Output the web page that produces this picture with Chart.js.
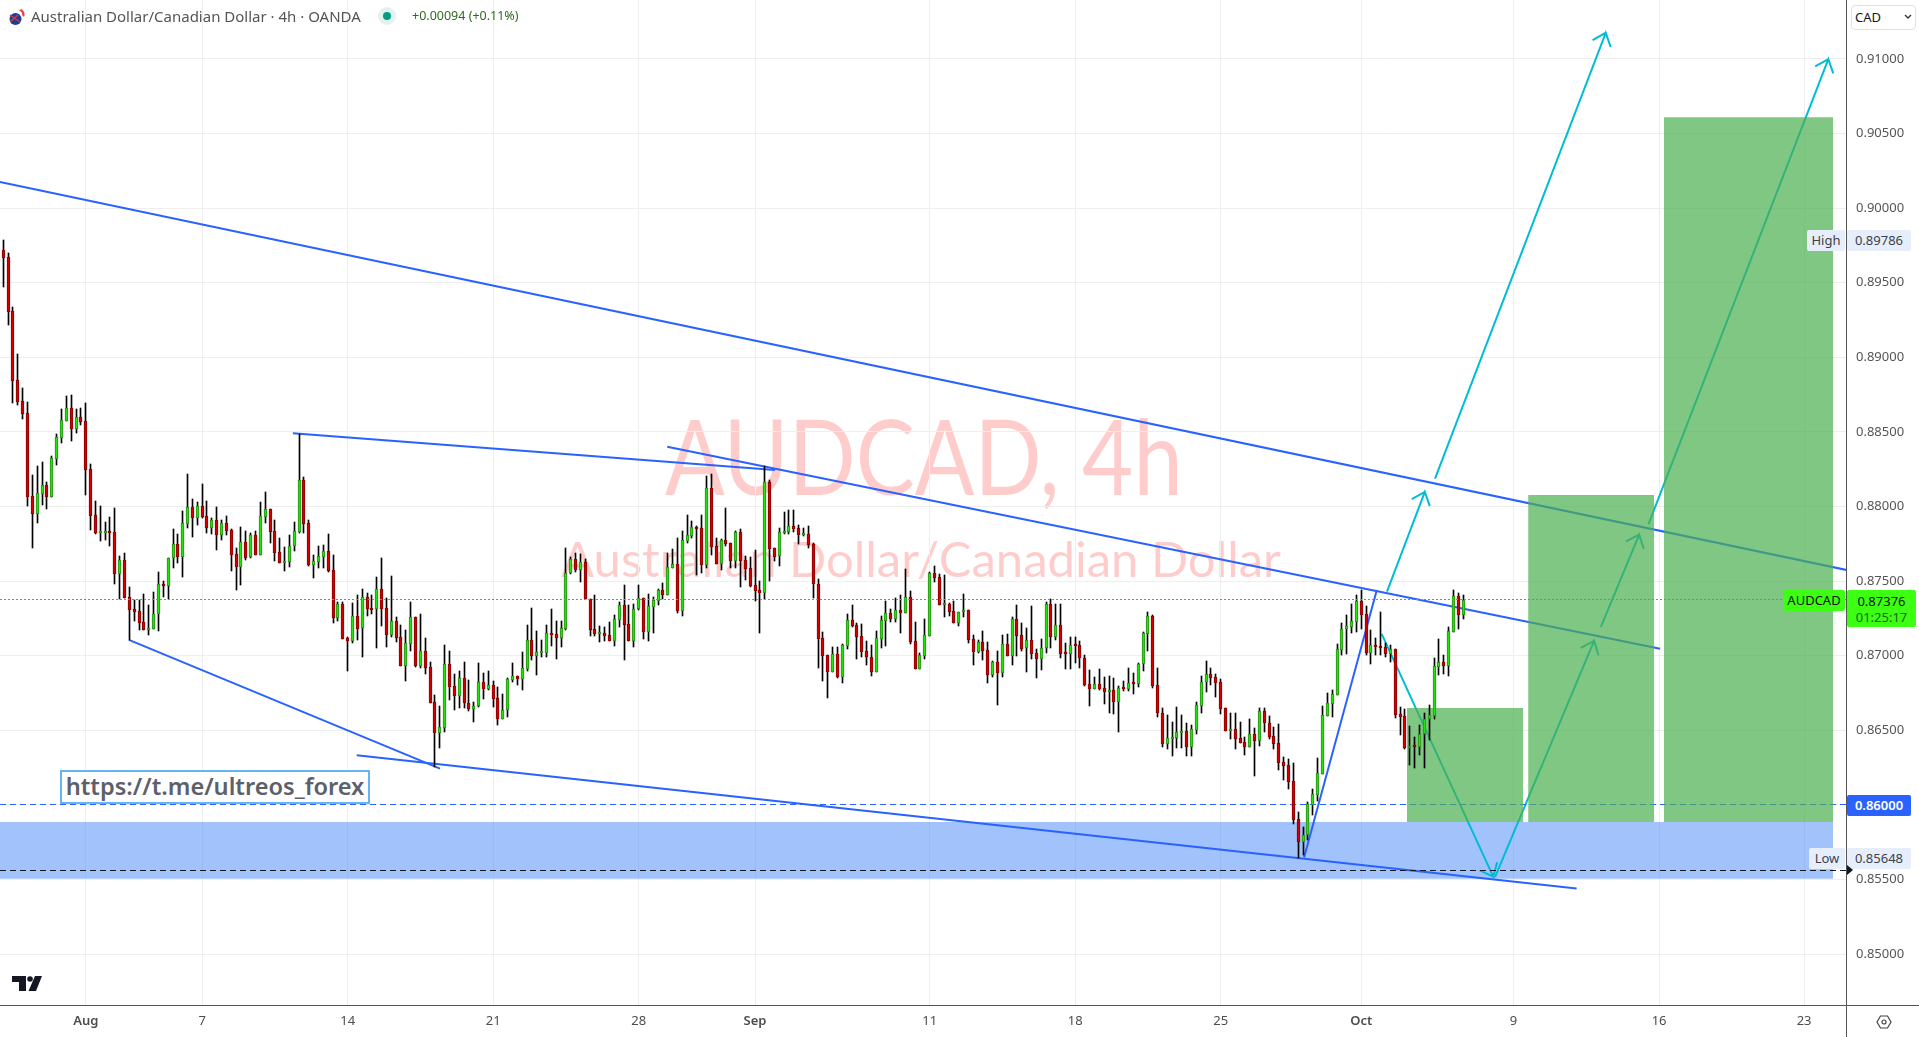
<!DOCTYPE html>
<html>
<head>
<meta charset="utf-8">
<title>AUDCAD 4h</title>
<script src="https://cdn.jsdelivr.net/npm/chart.js@4/dist/chart.umd.min.js"></script>
<style>
  html, body { margin: 0; padding: 0; background: #fff; overflow: hidden; }
  #wrap { position: relative; width: 1919px; height: 1037px; font-family: "Noto Sans", sans-serif; color: #555; }
  #chartBox { position: absolute; left: 0; top: 0; width: 1919px; height: 1037px; z-index: 2; }
  #wrap > div, #wrap > svg { position: absolute; white-space: nowrap; }
  .mark { color: rgba(255, 0, 0, 0.2); z-index: 1; font-family: "Lato", sans-serif; transform-origin: left top; }
  .over { z-index: 3; }
  .tag { z-index: 3; font-size: 13px; line-height: 21px; text-align: center; border-radius: 2px; }
  .pale { background: #e6eefb; color: #3c3f4c; }
  .lime { background: #3cff14; color: #111; }
</style>
</head>
<body>
<div id="wrap">
  <div class="mark" style="left:665px;top:395px;font-size:104px;line-height:120px;transform:scaleX(0.85);">AUDCAD, 4h</div>
  <div class="mark" style="left:561px;top:528px;font-size:49px;line-height:60px;">Australian Dollar/Canadian Dollar</div>
  <div id="chartBox"><canvas id="chart"></canvas></div>

  <svg style="left:9px;top:8px;z-index:3" width="18" height="18" viewBox="0 0 18 18">
    <circle cx="6.5" cy="11" r="6" fill="#1c3f94"/><path d="M1 7 L11 14 M1 14 L9 7" stroke="#e33" stroke-width="1.4"/>
    <path d="M12 1 A 6 6 0 0 1 15 9 L13 7 A 3 3 0 0 0 10 3 Z" fill="#e8434b"/>
  </svg>
  <div class="over" style="left:31px;top:6px;font-size:15px;line-height:21px;color:#555;">Australian Dollar/Canadian Dollar · 4h · OANDA</div>
  <div class="over" style="left:378px;top:7px;width:18px;height:18px;border-radius:50%;background:rgba(8,153,129,0.12);"></div>
  <div class="over" style="left:383px;top:12px;width:8px;height:8px;border-radius:50%;background:#089981;"></div>
  <div class="over" style="left:412px;top:7px;font-size:12.5px;line-height:18px;color:#2f6b1e;">+0.00094 (+0.11%)</div>

  <div class="over" style="left:60px;top:770px;width:306px;height:30px;border:2px solid #64b5f6;background:#fff;color:#5d606b;font-size:23.6px;font-weight:600;line-height:29px;text-align:center;">https://t.me/ultreos_forex</div>

  <svg style="left:12px;top:976px;z-index:3" width="31" height="15" viewBox="0 0 31 15">
    <path d="M0 0 H14 V15 H7 V6 H0 Z M23 0 H30 L24 15 H16.5 Z" fill="#131722"/><circle cx="18" cy="3" r="2.8" fill="#131722"/>
  </svg>

  <div style="left:1846px;top:0;width:1px;height:1037px;background:#555;z-index:3;"></div>
  <div style="left:0;top:1005px;width:1919px;height:1px;background:#555;z-index:3;"></div>

  <div class="over" style="left:1851px;top:5px;width:63px;height:23px;border:1px solid #dfe1ea;border-radius:4px;background:#fff;color:#131722;font-size:13px;line-height:23px;text-indent:3px;">CAD</div>
  <svg style="left:1904px;top:14px;z-index:3" width="8" height="6" viewBox="0 0 8 6"><path d="M1 1 L4 4 L7 1" fill="none" stroke="#333" stroke-width="1.4"/></svg>

  <div class="tag lime" style="left:1783px;top:590px;width:62px;">AUDCAD</div>
  <div class="tag lime" style="left:1847px;top:590px;width:69px;line-height:16px;padding-top:3px;height:34px;">0.87376<br><span style="color:#26601a;">01:25:17</span></div>
  <div class="tag" style="left:1847px;top:795px;width:64px;background:#2962ff;color:#fff;font-weight:600;">0.86000</div>
  <div class="tag pale" style="left:1807px;top:230px;width:38px;">High</div>
  <div class="tag pale" style="left:1847px;top:230px;width:64px;">0.89786</div>
  <div class="tag pale" style="left:1809px;top:848px;width:36px;">Low</div>
  <div class="tag pale" style="left:1847px;top:848px;width:64px;">0.85648</div>
  <div style="left:1847px;top:865px;width:0;height:0;border-left:6px solid #131722;border-top:5px solid transparent;border-bottom:5px solid transparent;z-index:4;"></div>

  <svg style="left:1876px;top:1014px;z-index:3" width="16" height="16" viewBox="0 0 16 16">
    <path d="M4.5 2 H11.5 L15 8 L11.5 14 H4.5 L1 8 Z" fill="none" stroke="#444" stroke-width="1.2"/><circle cx="8" cy="8" r="2" fill="none" stroke="#444" stroke-width="1.2"/>
  </svg>
</div>

<script>
const opens = [
  0.8972,0.89671,0.89309,0.88846,0.88705,0.88625,0.88069,0.87952,0.88086,0.88143,
  0.88066,0.88321,0.88462,0.88575,0.88659,0.88522,0.88598,0.88571,0.8825,0.87941,
  0.87825,0.87825,0.8783,0.87828,0.8755,0.8764,0.87392,0.87311,0.873,0.87226,
  0.87175,0.87181,0.87278,0.87479,0.8747,0.87653,0.87747,0.87664,0.87885,0.87995,
  0.87925,0.88002,0.87935,0.87858,0.87908,0.87811,0.87888,0.87841,0.8768,0.87597,
  0.8776,0.8766,0.87807,0.87677,0.8793,0.87982,0.87834,0.87694,0.87624,0.8763,
  0.87734,0.87832,0.88176,0.87888,0.8761,0.8763,0.87664,0.877,0.87573,0.87255,
  0.87345,0.87117,0.87101,0.87265,0.87184,0.87392,0.87313,0.87311,0.87445,0.87318,
  0.87141,0.87231,0.87124,0.86933,0.87081,0.87258,0.86933,0.87032,0.86923,0.86688,
  0.86484,0.86518,0.86943,0.86795,0.86732,0.86849,0.86681,0.86645,0.86665,0.86822,
  0.86777,0.86802,0.86717,0.86578,0.86635,0.8684,0.86862,0.86846,0.86911,0.87104,
  0.87,0.87019,0.87021,0.87151,0.87144,0.87121,0.87179,0.87553,0.87647,0.87577,
  0.87626,0.87383,0.87177,0.87148,0.87151,0.87137,0.87101,0.87242,0.8734,0.87213,
  0.87101,0.87311,0.87385,0.87161,0.87329,0.87369,0.87439,0.87409,0.8759,0.87613,
  0.873,0.87771,0.87805,0.87861,0.87854,0.8761,0.88122,0.87734,0.87617,0.87774,
  0.87754,0.87637,0.87828,0.8764,0.87588,0.87472,0.87439,0.87423,0.88163,0.8772,
  0.87667,0.87825,0.87832,0.87868,0.87854,0.87809,0.87814,0.87749,0.87479,0.87117,
  0.87005,0.86893,0.8701,0.86858,0.87068,0.87238,0.87204,0.8713,0.8703,0.86994,
  0.86893,0.87114,0.87235,0.87285,0.87246,0.87305,0.87289,0.87392,0.87097,0.86913,
  0.87,0.87135,0.87553,0.87526,0.8734,0.87347,0.873,0.87222,0.87295,0.87305,
  0.8711,0.87027,0.87092,0.87037,0.86873,0.86956,0.86887,0.87077,0.87,0.87245,
  0.87137,0.8705,0.87106,0.87017,0.8698,0.8705,0.87345,0.87128,0.87204,0.87019,
  0.87014,0.8707,0.87072,0.86983,0.86809,0.86779,0.86809,0.86782,0.86759,0.86769,
  0.86692,0.86784,0.86779,0.86818,0.86813,0.86943,0.87148,0.87267,0.86802,0.86614,
  0.86411,0.86444,0.86447,0.86484,0.86496,0.86391,0.86503,0.86665,0.86822,0.86876,
  0.86856,0.86822,0.86648,0.86498,0.86507,0.86447,0.86422,0.86391,0.86474,0.86431,
  0.8663,0.86547,0.86462,0.86413,0.86288,0.86266,0.86159,0.85904,0.85752,0.85797,
  0.86,0.86067,0.8621,0.86598,0.86679,0.86739,0.87041,0.87177,0.87195,0.87228,
  0.87365,0.87278,0.87021,0.8707,0.87066,0.87057,0.87014,0.87043,0.86608,0.86594,
  0.86384,0.86395,0.86391,0.86474,0.86574,0.86598,0.86927,0.86958,0.86933,0.87161,
  0.87399,0.87273
]
const highs = [
  0.89786,0.89697,0.89335,0.8902,0.88793,0.88699,0.8821,0.8827,0.88297,0.88163,
  0.88339,0.88484,0.88654,0.88741,0.88746,0.88654,0.88659,0.88694,0.88283,0.88037,
  0.88004,0.87897,0.87928,0.87988,0.87669,0.87687,0.87461,0.87374,0.87374,0.87412,
  0.8734,0.87425,0.87559,0.87499,0.87655,0.8785,0.87816,0.8797,0.88218,0.88049,
  0.88029,0.88149,0.88037,0.87921,0.87995,0.8791,0.87937,0.87848,0.87722,0.87861,
  0.87834,0.87821,0.87834,0.88029,0.88098,0.87982,0.87908,0.87787,0.87727,0.87809,
  0.87895,0.88486,0.88196,0.87908,0.87673,0.87734,0.87742,0.87816,0.87675,0.87358,
  0.87358,0.87126,0.87352,0.87407,0.87445,0.87419,0.87407,0.87526,0.87653,0.87385,
  0.87533,0.87262,0.87206,0.87173,0.8736,0.8726,0.8728,0.87117,0.86958,0.86737,
  0.86663,0.8707,0.8703,0.86878,0.86898,0.86956,0.86838,0.86688,0.86952,0.86883,
  0.86898,0.86829,0.86791,0.86744,0.86853,0.8695,0.86864,0.87023,0.87206,0.87318,
  0.87166,0.87106,0.87204,0.87313,0.87231,0.87231,0.87722,0.87664,0.87689,0.8768,
  0.87647,0.87383,0.87407,0.872,0.87195,0.87228,0.87273,0.87358,0.87474,0.8734,
  0.87347,0.87474,0.87385,0.87414,0.87396,0.87448,0.87486,0.87687,0.87716,0.87787,
  0.87838,0.87943,0.87903,0.8787,0.87946,0.88205,0.88218,0.87787,0.87785,0.87988,
  0.87754,0.87836,0.8785,0.87671,0.8766,0.87707,0.87499,0.8827,0.88176,0.8772,
  0.87854,0.87964,0.87975,0.87975,0.87874,0.87854,0.87868,0.87754,0.87513,0.87157,
  0.87007,0.87057,0.87061,0.87079,0.8728,0.87338,0.87218,0.87213,0.87097,0.87072,
  0.87166,0.87269,0.87367,0.87311,0.87385,0.87407,0.8758,0.87432,0.87228,0.87017,
  0.87245,0.87563,0.876,0.87546,0.87541,0.87352,0.87369,0.87295,0.87414,0.87305,
  0.87139,0.87106,0.87166,0.8709,0.86965,0.8703,0.87137,0.87144,0.87258,0.8734,
  0.87218,0.87184,0.87334,0.87043,0.87112,0.87358,0.87378,0.87345,0.87345,0.87084,
  0.87126,0.87124,0.87099,0.87003,0.86905,0.8686,0.86911,0.8686,0.86864,0.86853,
  0.86797,0.86833,0.8692,0.86887,0.8695,0.87157,0.87293,0.87273,0.8692,0.86648,
  0.86603,0.86554,0.86657,0.86603,0.86547,0.86536,0.86688,0.86862,0.86965,0.86916,
  0.86878,0.86842,0.86648,0.86614,0.86614,0.86554,0.86454,0.86576,0.86518,0.86648,
  0.86648,0.86596,0.86525,0.86543,0.86322,0.86306,0.86281,0.85951,0.8585,0.86022,
  0.86105,0.86313,0.86663,0.86748,0.86771,0.87079,0.87218,0.87273,0.87347,0.87407,
  0.87441,0.87334,0.87173,0.87119,0.87293,0.87084,0.87072,0.87045,0.86659,0.86641,
  0.86529,0.86454,0.86536,0.86614,0.8667,0.86983,0.8711,0.87005,0.87191,0.87441,
  0.87421,0.87407
]
const lows = [
  0.89474,0.89217,0.88696,0.88683,0.88587,0.88004,0.87722,0.87892,0.8801,0.87984,
  0.88066,0.88281,0.88426,0.88575,0.88439,0.88493,0.88547,0.88078,0.87845,0.87816,
  0.87769,0.87776,0.87736,0.87483,0.87378,0.87385,0.87106,0.87233,0.87173,0.87173,
  0.87139,0.87179,0.87166,0.87394,0.87378,0.87588,0.87624,0.8753,0.87858,0.87798,
  0.87876,0.87925,0.87825,0.87818,0.87709,0.87776,0.87809,0.8757,0.87443,0.87476,
  0.87642,0.87655,0.87675,0.87677,0.87892,0.87758,0.87637,0.87624,0.8757,0.87597,
  0.87704,0.87825,0.87825,0.87602,0.87523,0.87588,0.87588,0.87561,0.87222,0.87235,
  0.87112,0.869,0.87088,0.87106,0.86994,0.87267,0.87278,0.87054,0.872,0.87061,
  0.87124,0.87094,0.86932,0.86833,0.87032,0.86927,0.8692,0.86878,0.86685,0.86257,
  0.86382,0.86489,0.86702,0.86639,0.86652,0.86648,0.8663,0.86558,0.86659,0.8671,
  0.86771,0.86659,0.86538,0.86578,0.86592,0.86826,0.86804,0.86773,0.869,0.86972,
  0.86871,0.86994,0.86994,0.87066,0.86978,0.87057,0.87173,0.87548,0.87561,0.87494,
  0.87381,0.87133,0.87133,0.87094,0.87099,0.87099,0.87066,0.87195,0.86972,0.87099,
  0.87059,0.87307,0.87112,0.87099,0.87155,0.8734,0.87378,0.87407,0.87586,0.87289,
  0.87269,0.87754,0.87789,0.87541,0.87555,0.87588,0.87675,0.87615,0.87575,0.87738,
  0.87588,0.87588,0.87461,0.87508,0.87463,0.87367,0.87153,0.87378,0.87501,0.87633,
  0.87602,0.87816,0.87816,0.8783,0.87749,0.87803,0.87722,0.87387,0.86918,0.86831,
  0.86717,0.86891,0.86851,0.8682,0.87045,0.87195,0.86978,0.86994,0.86938,0.86864,
  0.86891,0.87052,0.87066,0.87228,0.87228,0.87153,0.87285,0.87079,0.86913,0.86913,
  0.8698,0.87135,0.87494,0.8734,0.87262,0.87267,0.8722,0.872,0.87262,0.87088,
  0.86938,0.87019,0.86972,0.86818,0.86856,0.8667,0.86856,0.86997,0.86938,0.86998,
  0.87034,0.86891,0.8698,0.86851,0.86905,0.87019,0.87052,0.87106,0.86985,0.86911,
  0.86909,0.86954,0.86916,0.86797,0.86665,0.86775,0.86771,0.86679,0.86619,0.8661,
  0.86491,0.86766,0.86766,0.86746,0.86793,0.869,0.87032,0.86784,0.8659,0.86387,
  0.86377,0.8633,0.86382,0.86384,0.8633,0.8633,0.86474,0.86619,0.86759,0.86804,
  0.86726,0.86612,0.86496,0.8644,0.86375,0.86415,0.86337,0.86391,0.86194,0.86395,
  0.86491,0.8644,0.86377,0.86234,0.86167,0.86107,0.85875,0.85647,0.85665,0.85765,
  0.85933,0.86029,0.8621,0.86598,0.86592,0.86739,0.87005,0.87012,0.87155,0.87161,
  0.87179,0.87005,0.86945,0.87005,0.87005,0.86994,0.8696,0.86583,0.86469,0.86375,
  0.86268,0.8625,0.86335,0.8625,0.86435,0.86578,0.86871,0.86878,0.86864,0.87161,
  0.87179,0.87246
]
const closes = [
  0.89668,0.89306,0.88844,0.88703,0.88622,0.88066,0.87952,0.88089,0.88143,0.88066,
  0.88323,0.88464,0.88578,0.88659,0.88522,0.88598,0.88569,0.88247,0.87939,0.87823,
  0.8783,0.8783,0.87825,0.8755,0.8764,0.87389,0.87309,0.87295,0.87222,0.87175,
  0.87184,0.87278,0.87479,0.8747,0.87653,0.87747,0.87662,0.87888,0.87995,0.87925,
  0.88002,0.8793,0.87858,0.87908,0.87811,0.87888,0.87836,0.87677,0.87597,0.8776,
  0.87655,0.87807,0.87677,0.87935,0.87982,0.87832,0.87691,0.87624,0.87635,0.87734,
  0.87834,0.88176,0.87885,0.8761,0.87633,0.87667,0.877,0.8757,0.87253,0.87345,
  0.87114,0.87101,0.87265,0.87181,0.87392,0.87311,0.87309,0.87445,0.87315,0.87141,
  0.87231,0.87121,0.86933,0.87084,0.87258,0.86933,0.87032,0.86918,0.86685,0.86484,
  0.86521,0.86943,0.86793,0.86732,0.86849,0.86681,0.86645,0.86665,0.86822,0.86779,
  0.86802,0.86712,0.86578,0.86637,0.86844,0.86862,0.86846,0.86916,0.87104,0.86998,
  0.87023,0.87025,0.87151,0.87139,0.87119,0.87184,0.87553,0.87647,0.87577,0.87626,
  0.87383,0.87175,0.87146,0.87153,0.87135,0.87101,0.87245,0.8734,0.87208,0.87101,
  0.87311,0.87385,0.87161,0.87334,0.87372,0.87439,0.87409,0.87593,0.87613,0.873,
  0.87774,0.87807,0.87861,0.87852,0.8761,0.88122,0.87731,0.87617,0.87774,0.87749,
  0.87635,0.87828,0.87637,0.87582,0.87468,0.87434,0.87423,0.88163,0.87718,0.87664,
  0.87828,0.87834,0.87868,0.87852,0.87811,0.87814,0.87744,0.87479,0.87114,0.87,
  0.86893,0.8701,0.86858,0.87072,0.87238,0.87202,0.87128,0.87027,0.86994,0.86893,
  0.87117,0.87238,0.87285,0.87246,0.87307,0.87289,0.87392,0.87092,0.86913,0.87003,
  0.87137,0.87553,0.87521,0.87342,0.87347,0.87295,0.87222,0.87295,0.87305,0.87106,
  0.87027,0.87092,0.87032,0.86873,0.86956,0.86887,0.87077,0.87,0.87245,0.87135,
  0.87045,0.87106,0.87014,0.8698,0.8705,0.87345,0.87128,0.87204,0.87014,0.87014,
  0.87072,0.87066,0.86983,0.86804,0.86777,0.86809,0.86777,0.86759,0.86769,0.86692,
  0.86782,0.86779,0.86818,0.86813,0.86943,0.87151,0.87267,0.86797,0.86614,0.86411,
  0.86447,0.86449,0.86487,0.86496,0.86391,0.86507,0.86668,0.86822,0.86876,0.86853,
  0.8682,0.86645,0.86496,0.86507,0.86444,0.86417,0.86391,0.86474,0.86431,0.8663,
  0.86547,0.86458,0.86409,0.86283,0.86263,0.86156,0.85899,0.85752,0.85797,0.86005,
  0.86072,0.86212,0.86601,0.86681,0.86742,0.87043,0.87177,0.872,0.87231,0.87365,
  0.87273,0.87021,0.8707,0.87061,0.87054,0.87014,0.87045,0.86605,0.8659,0.86382,
  0.86393,0.86391,0.86474,0.86574,0.86601,0.86929,0.86956,0.86932,0.87166,0.87399,
  0.87273,0.87376
]

// x axis is in bars, first candle is bar 0
const tickBars = [17, 41, 71, 101, 131, 155, 191, 221, 251, 280, 311.4, 341.4, 371.3]
const tickLabels = ["Aug", "7", "14", "21", "28", "Sep", "11", "18", "25", "Oct", "9", "16", "23"]
const boldTicks = ["Aug", "Sep", "Oct"]

// drawings, each point is [bar, price]
const blueLines = [
  [[-0.68, 0.90175], [380, 0.87575]],
  [[59.7, 0.88491], [159.1, 0.88245]],
  [[136.9, 0.88401], [341.6, 0.87047]],
  [[25.9, 0.87106], [90.05, 0.86243]],
  [[72.87, 0.86333], [324.4, 0.8544]],
  [[268.2, 0.85647], [283.2, 0.87441]]
]
const cyanArrows = [
  [[284.2, 0.87146], [307.2, 0.85519]],
  [[285.3, 0.87429], [293.1, 0.88098]],
  [[295.2, 0.88187], [330.4, 0.91175]],
  [[307.6, 0.85517], [328, 0.87099]],
  [[329.4, 0.87193], [337.3, 0.87812]],
  [[339.2, 0.87881], [376.3, 0.90998]]
]
// [left bar, right bar, top price, bottom price]
const greenBoxes = [
  [289.4, 313.4, 0.8665, 0.85886],
  [314.4, 340.4, 0.88078, 0.85886],
  [342.4, 377.3, 0.90609, 0.85886]
]
const blueZone = [-0.68, 377.3, 0.85886, 0.85506]
const alertPrice = 0.86
const supportPrice = 0.85562
const lastPrice = 0.87376

const BAR_PX = 4.85
const PRICE_PX = 14920

function segment(a, b) {
  return [{ x: a[0], y: a[1] }, { x: b[0], y: b[1] }]
}

// open arrow head, the wings are worked out in pixels and put back to bar/price
function arrowPath(a, b) {
  const dx = (b[0] - a[0]) * BAR_PX
  const dy = (b[1] - a[1]) * PRICE_PX
  const ang = Math.atan2(dy, dx)
  const wing = side => ({
    x: b[0] + 15 * Math.cos(ang + Math.PI + side * 0.7) / BAR_PX,
    y: b[1] + 15 * Math.sin(ang + Math.PI + side * 0.7) / PRICE_PX
  })
  const tip = { x: b[0], y: b[1] }
  return [{ x: a[0], y: a[1] }, tip, wing(1), tip, wing(-1)]
}

function flatLine(price, color, dash, order) {
  return {
    type: "line", order, crisp: true, data: segment([-0.68, price], [380, price]),
    borderColor: color, borderWidth: 1, borderDash: dash, pointRadius: 0, tension: 0
  }
}

function box(b, color, order) {
  return {
    type: "line", order, data: segment([b[0], b[2]], [b[1], b[2]]),
    borderWidth: 0, pointRadius: 0, tension: 0,
    fill: { value: b[3] }, backgroundColor: color
  }
}

const bars = opens.map((_, i) => i)
const GREEN = "#22e30c", RED = "#d00000"

const datasets = [
  box(blueZone, "rgba(68,134,245,0.5)", 9),
  flatLine(alertPrice, "#2962ff", [6, 4], 8),
  flatLine(supportPrice, "#131722", [6, 4], 8)
]
blueLines.forEach(l => datasets.push({
  type: "line", order: 8, data: segment(l[0], l[1]),
  borderColor: "#2962ff", borderWidth: 2, pointRadius: 0, tension: 0
}))
cyanArrows.forEach(l => datasets.push({
  type: "line", order: 8, data: arrowPath(l[0], l[1]),
  borderColor: "#00bcd4", borderWidth: 2, pointRadius: 0, tension: 0
}))
greenBoxes.forEach(b => datasets.push(box(b, "rgba(76,175,80,0.7)", 7)))
datasets.push({
  type: "bar", order: 2, grouped: false, barThickness: 1,
  data: bars.map(i => ({ x: i, y: [lows[i], highs[i]] })),
  backgroundColor: "#000"
})
datasets.push({
  type: "bar", order: 1, grouped: false, barThickness: 3, minBarLength: 2,
  data: bars.map(i => ({ x: i, y: [Math.min(opens[i], closes[i]), Math.max(opens[i], closes[i])] })),
  backgroundColor: bars.map(i => closes[i] >= opens[i] ? GREEN : RED),
  borderColor: bars.map(i => closes[i] >= opens[i] ? "#2d8a1a" : "#8a0000"),
  borderWidth: 1, borderSkipped: false
})
datasets.push(flatLine(lastPrice, "#1fd400", [2, 2], 0))

// candles and flat lines look crisp only when they sit on whole pixels
const snapBars = {
  id: "snapBars",
  afterDatasetsUpdate(chart) {
    chart.getSortedVisibleDatasetMetas().forEach(meta => {
      if (meta.type === "bar") {
        meta.data.forEach(el => {
          el.x = Math.floor(el.x) + 0.5
          el.y = Math.round(el.y)
          el.base = Math.round(el.base)
        })
      } else if (chart.data.datasets[meta.index].crisp) {
        meta.data.forEach(el => { el.y = Math.floor(el.y) + 0.5 })
      }
    })
  }
}

new Chart(document.getElementById("chart"), {
  type: "bar",
  data: { datasets },
  plugins: [snapBars],
  options: {
    responsive: true,
    maintainAspectRatio: false,
    animation: false,
    events: [],
    layout: { padding: 0 },
    plugins: { legend: { display: false }, title: { display: false }, tooltip: { enabled: false } },
    scales: {
      x: {
        type: "linear",
        min: -0.68,
        max: 379.94,
        offset: false,
        afterFit(scale) {
          scale.height = 32
          scale.paddingLeft = 0
          scale.paddingRight = 0
        },
        afterBuildTicks(scale) { scale.ticks = tickBars.map(v => ({ value: v })) },
        grid: { color: "#eeeeee", drawTicks: false, offset: false },
        border: { display: false },
        ticks: {
          autoSkip: false,
          maxRotation: 0,
          padding: 8,
          color: "#4d4d4d",
          font: ctx => ({ family: "Noto Sans", size: 13, weight: boldTicks.includes(ctx.tick && ctx.tick.label) ? "600" : "400" }),
          callback: (v, i) => tickLabels[i]
        }
      },
      y: {
        type: "linear",
        position: "right",
        min: 0.84659,
        max: 0.91395,
        afterFit(scale) {
          scale.width = 73
          scale.paddingTop = 0
          scale.paddingBottom = 0
        },
        grid: { color: "#eeeeee", drawTicks: false },
        border: { display: false },
        ticks: {
          includeBounds: false,
          stepSize: 0.005,
          padding: 10,
          color: "#555",
          font: { family: "Noto Sans", size: 13 },
          callback: v => v.toFixed(5)
        }
      }
    }
  }
})
</script>
</body>
</html>
